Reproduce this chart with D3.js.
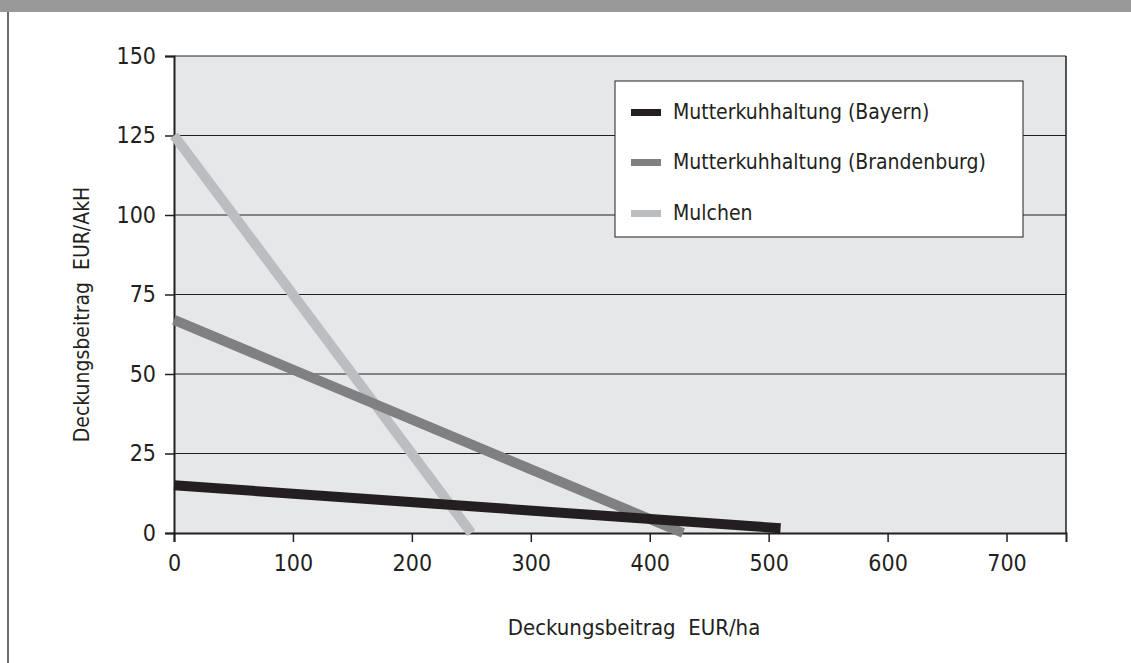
<!DOCTYPE html>
<html><head><meta charset="utf-8">
<script src="https://cdn.jsdelivr.net/npm/d3@7"></script>
<style>
html,body{margin:0;padding:0;background:#fff;}
svg text{font-family:"Liberation Sans Narrow","DejaVu Sans Condensed",sans-serif;}
</style></head>
<body><svg id="c" width="1131" height="663"></svg>
<script>
const seriesNames = ["Mutterkuhhaltung (Bayern)", "Mutterkuhhaltung (Brandenburg)", "Mulchen"];
const seriesColors = ["#231f20", "#808083", "#bcbdc0"];
const bayern = [[0, 15], [510, 1.5]];
const brandenburg = [[0, 67], [428, 0]];
const mulchen = [[0, 125], [250, 0]];
const xTicks = [0, 100, 200, 300, 400, 500, 600, 700];
const yTicks = [0, 25, 50, 75, 100, 125, 150];
const xTitle = "Deckungsbeitrag  EUR/ha";
const yTitle = "Deckungsbeitrag  EUR/AkH";

const FONT = '"Liberation Sans Narrow","DejaVu Sans Condensed",sans-serif';
const svg = d3.select("#c");
const L = 174, R = 1066, T = 56, B = 533;
const x = d3.scaleLinear().domain([0, 750]).range([L, R]);
const y = d3.scaleLinear().domain([0, 150]).range([B, T]);

// top banner and left border
svg.append("rect").attr("x", 0).attr("y", 0).attr("width", 1131).attr("height", 12).attr("fill", "#999999");
svg.append("rect").attr("x", 7).attr("y", 12).attr("width", 2).attr("height", 651).attr("fill", "#6d6d6d");

// plot background
svg.append("rect").attr("x", L).attr("y", T).attr("width", R - L).attr("height", B - T).attr("fill", "#e6e7e8");

// gridlines
svg.append("g").selectAll("line").data(yTicks.filter(d => d > 0)).join("line")
  .attr("x1", L).attr("x2", R).attr("y1", d => y(d)).attr("y2", d => y(d))
  .attr("stroke", "#231f20").attr("stroke-width", 1);
svg.append("line").attr("x1", R).attr("x2", R).attr("y1", T).attr("y2", B).attr("stroke", "#231f20").attr("stroke-width", 1.5);

// axes
const yAxis = svg.append("g").attr("transform", `translate(${L},0)`)
  .call(d3.axisLeft(y).tickValues(yTicks).tickSize(9).tickPadding(9));
const xAxis = svg.append("g").attr("transform", `translate(0,${B})`)
  .call(d3.axisBottom(x).tickValues(xTicks).tickSize(9).tickPadding(13));
[yAxis, xAxis].forEach(a => {
  a.select(".domain").attr("stroke", "#231f20").attr("stroke-width", 2);
  a.selectAll(".tick line").attr("stroke", "#231f20").attr("stroke-width", 1.5);
  a.selectAll("text").attr("font-size", 23).attr("fill", "#231f20").attr("font-family", FONT);
});

// lines
const line = d3.line().x(d => x(d[0])).y(d => y(d[1]));
const dataSets = [bayern, brandenburg, mulchen];
[2, 1, 0].forEach(i => {
  svg.append("path").attr("d", line(dataSets[i])).attr("fill", "none")
    .attr("stroke", seriesColors[i]).attr("stroke-width", 10).attr("stroke-linecap", "butt");
});

// legend
const lg = svg.append("g");
lg.append("rect").attr("x", 615).attr("y", 81).attr("width", 408).attr("height", 156)
  .attr("fill", "#fff").attr("stroke", "#231f20").attr("stroke-width", 1);
const rowsY = [112, 162, 213];
seriesNames.forEach((n, i) => {
  lg.append("rect").attr("x", 631).attr("y", rowsY[i] - 3).attr("width", 30).attr("height", 7).attr("fill", seriesColors[i]);
  lg.append("text").attr("x", 673).attr("y", rowsY[i]).attr("dy", "0.35em")
    .attr("font-size", 21).attr("fill", "#231f20").text(n);
});

// axis titles
svg.append("text").attr("x", 634).attr("y", 627).attr("text-anchor", "middle").attr("dy", "0.35em")
  .attr("font-size", 22).attr("fill", "#231f20").style("white-space", "pre").text(xTitle);
svg.append("text").attr("transform", `translate(82,${(T + B) / 2 + 20}) rotate(-90)`)
  .attr("text-anchor", "middle").attr("dy", "0.35em")
  .attr("font-size", 21).attr("fill", "#231f20").style("white-space", "pre").text(yTitle);
</script></body></html>
